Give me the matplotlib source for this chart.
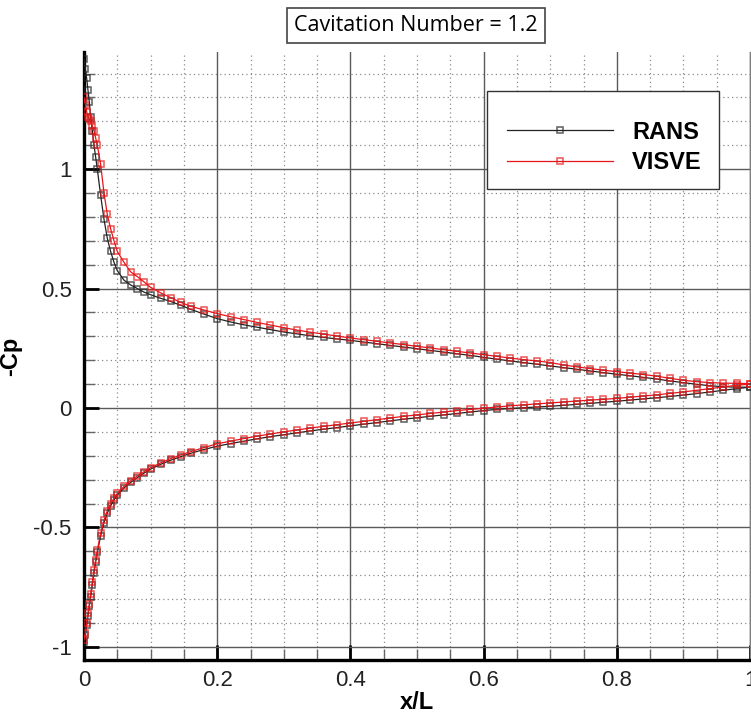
import numpy as np
import matplotlib
matplotlib.use("Agg")
import matplotlib.pyplot as plt
from matplotlib.ticker import MultipleLocator, FixedLocator
from matplotlib.patches import Rectangle

plt.rcParams['axes.unicode_minus'] = False
plt.rcParams['font.family'] = ['Liberation Sans', 'DejaVu Sans']

# chordwise stations x/L (shared by both surfaces)
x = [0, 0.002, 0.004, 0.006, 0.008, 0.01, 0.0125, 0.015, 0.0175, 0.02,
     0.025, 0.03, 0.035, 0.04, 0.045, 0.05, 0.06, 0.07, 0.08, 0.09,
     0.10, 0.115, 0.13, 0.145, 0.16, 0.18, 0.20, 0.22, 0.24, 0.26,
     0.28, 0.30, 0.32, 0.34, 0.36, 0.38, 0.40, 0.42, 0.44, 0.46,
     0.48, 0.50, 0.52, 0.54, 0.56, 0.58, 0.60, 0.62, 0.64, 0.66,
     0.68, 0.70, 0.72, 0.74, 0.76, 0.78, 0.80, 0.82, 0.84, 0.86,
     0.88, 0.90, 0.92, 0.94, 0.96, 0.98, 1.00]

# -Cp, suction side
rans_upper = [1.46, 1.42, 1.38, 1.33, 1.28, 1.22, 1.16, 1.10, 1.05, 1.00,
              0.89, 0.79, 0.71, 0.655, 0.61, 0.575, 0.535, 0.515, 0.50, 0.485,
              0.474, 0.459, 0.446, 0.43, 0.413, 0.393, 0.374, 0.36, 0.348, 0.338,
              0.328, 0.318, 0.31, 0.302, 0.295, 0.289, 0.283, 0.276, 0.269, 0.262,
              0.255, 0.248, 0.241, 0.234, 0.227, 0.22, 0.212, 0.204, 0.197, 0.19,
              0.183, 0.176, 0.169, 0.162, 0.155, 0.148, 0.141, 0.135, 0.128, 0.121,
              0.113, 0.106, 0.099, 0.093, 0.089, 0.087, 0.087]
visve_upper = [1.30, 1.27, 1.24, 1.22, 1.21, 1.20, 1.18, 1.16, 1.13, 1.10,
               1.02, 0.90, 0.81, 0.75, 0.70, 0.655, 0.61, 0.57, 0.55, 0.528,
               0.505, 0.482, 0.462, 0.442, 0.426, 0.41, 0.395, 0.382, 0.37, 0.358,
               0.347, 0.336, 0.326, 0.317, 0.309, 0.301, 0.293, 0.286, 0.279, 0.272,
               0.265, 0.258, 0.251, 0.244, 0.237, 0.23, 0.223, 0.216, 0.209, 0.202,
               0.197, 0.19, 0.18, 0.172, 0.165, 0.158, 0.152, 0.146, 0.14, 0.133,
               0.124, 0.116, 0.11, 0.106, 0.104, 0.103, 0.102]

# -Cp, pressure side
rans_lower = [-0.98, -0.95, -0.91, -0.87, -0.83, -0.79, -0.74, -0.69, -0.645, -0.605,
              -0.535, -0.48, -0.44, -0.41, -0.385, -0.365, -0.335, -0.312, -0.292, -0.273,
              -0.256, -0.236, -0.219, -0.204, -0.19, -0.174, -0.16, -0.149, -0.139, -0.129,
              -0.12, -0.112, -0.104, -0.096, -0.089, -0.082, -0.075, -0.068, -0.061, -0.054,
              -0.047, -0.041, -0.035, -0.029, -0.023, -0.017, -0.011, -0.006, -0.002, 0.001,
              0.004, 0.007, 0.011, 0.015, 0.019, 0.024, 0.028, 0.033, 0.038, 0.043,
              0.048, 0.054, 0.06, 0.067, 0.074, 0.081, 0.087]
visve_lower = [-0.97, -0.94, -0.90, -0.86, -0.82, -0.78, -0.73, -0.68, -0.635, -0.595,
               -0.525, -0.47, -0.43, -0.40, -0.378, -0.358, -0.328, -0.305, -0.285, -0.267,
               -0.25, -0.23, -0.212, -0.197, -0.183, -0.166, -0.15, -0.139, -0.128, -0.118,
               -0.109, -0.1, -0.092, -0.084, -0.077, -0.07, -0.063, -0.056, -0.049, -0.042,
               -0.035, -0.029, -0.023, -0.017, -0.011, -0.006, -0.001, 0.004, 0.009, 0.013,
               0.017, 0.021, 0.025, 0.029, 0.033, 0.036, 0.04, 0.045, 0.05, 0.055,
               0.061, 0.067, 0.074, 0.081, 0.088, 0.095, 0.1]

x_ticks = [0, 0.2, 0.4, 0.6, 0.8, 1.0]
x_labels = ['0', '0.2', '0.4', '0.6', '0.8', '1']
y_ticks = [-1, -0.5, 0, 0.5, 1]
y_labels = ['-1', '-0.5', '0', '0.5', '1']

fig = plt.figure(figsize=(7.51, 7.17), dpi=100)
ax = fig.add_axes([84 / 751, 57 / 717, 666 / 751, 608 / 717])

rans_style = dict(color='#222222', lw=0.9, marker='s', ms=4.2, mfc='none',
                  mec=(0.15, 0.15, 0.15, 0.75), mew=1.1, zorder=3)
visve_style = dict(color='#e8141b', lw=0.9, marker='s', ms=4.2, mfc='none',
                   mec=(0.9, 0.1, 0.1, 0.75), mew=1.1, zorder=4)

ax.plot(x, rans_upper, label='RANS', **rans_style)
ax.plot(x, rans_lower, **rans_style)
ax.plot(x, visve_upper, label='VISVE', **visve_style)
ax.plot(x, visve_lower, **visve_style)

ax.set_xlim(0, 1)
ax.set_ylim(-1.055, 1.49)
ax.xaxis.set_major_locator(FixedLocator(x_ticks))
ax.set_xticklabels(x_labels)
ax.yaxis.set_major_locator(FixedLocator(y_ticks))
ax.set_yticklabels(y_labels)
ax.xaxis.set_minor_locator(MultipleLocator(0.05))
ax.yaxis.set_minor_locator(MultipleLocator(0.1))

ax.grid(which='major', color='#5a5a5a', lw=1.0, ls='-')
ax.grid(which='minor', color='#8a8a8a', lw=0.9, ls=(0, (1, 2.5)))
ax.set_axisbelow(True)

ax.tick_params(which='major', direction='in', length=11, width=2,
               color='black', labelsize=16, labelcolor='#222222', pad=7)
ax.tick_params(which='minor', direction='in', length=8, width=1, color='#666666')
ax.tick_params(axis='y', pad=9)

ax.spines['top'].set_visible(False)
ax.spines['right'].set_color('#808080')
ax.spines['right'].set_linewidth(1.0)
ax.spines['left'].set_linewidth(2.4)
ax.spines['bottom'].set_linewidth(2.4)

ax.set_xlabel('x/L', fontsize=17, fontweight='bold', labelpad=0)
ax.set_ylabel('-Cp', fontsize=17, fontweight='bold')
ax.yaxis.set_label_coords(-0.093, 0.5)

# legend box drawn separately so the entries can sit low in it, as in the original
ax.add_patch(Rectangle((0.605, 0.775), 0.348, 0.161, transform=ax.transAxes,
                       fc='white', ec='#333333', lw=1.0, zorder=5))
leg = ax.legend(loc='upper left', bbox_to_anchor=(0.635, 0.887),
                numpoints=1, handlelength=4.5, handletextpad=0.8,
                labelspacing=0.3, borderpad=0, borderaxespad=0,
                frameon=False, prop={'weight': 'bold', 'size': 17})
leg.set_zorder(6)

fig.text(0.5535, 0.964, 'Cavitation Number = 1.2', ha='center', va='center',
         fontsize=15.5, family=['Open Sans', 'DejaVu Sans'],
         bbox=dict(boxstyle='square,pad=0.33', fc='white', ec='#444444', lw=1.2))

fig.savefig('out.png', dpi=100)
